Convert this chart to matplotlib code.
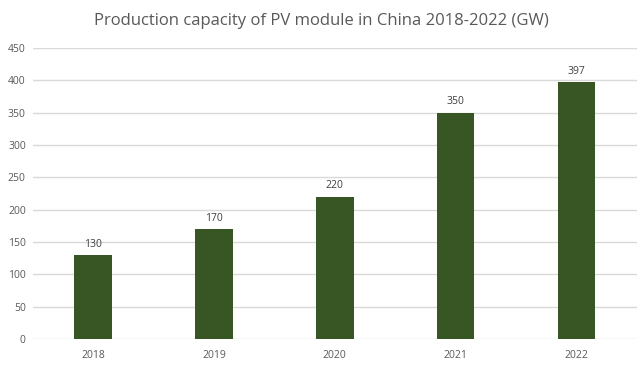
import matplotlib
matplotlib.use("Agg")
import matplotlib.pyplot as plt

years = ["2018", "2019", "2020", "2021", "2022"]
capacity = [130, 170, 220, 350, 397]
y_ticks = [0, 50, 100, 150, 200, 250, 300, 350, 400, 450]

BAR_COLOR = "#375623"
TEXT_COLOR = "#595959"
GRID_COLOR = "#d9d9d9"

plt.rcParams['font.family'] = ['Open Sans', 'DejaVu Sans']

fig = plt.figure(figsize=(6.42, 3.69), dpi=100)
ax = fig.add_axes([0.051, 0.0813, 0.941, 0.789])

x = range(len(years))
ax.bar(x, capacity, width=0.31, color=BAR_COLOR, zorder=3)

for xi, v in zip(x, capacity):
    ax.text(xi, v + 8, str(v), ha="center", va="bottom", fontsize=7.5, color="#404040")

ax.set_xlim(-0.5, len(years) - 0.5)
ax.set_ylim(0, 450)
ax.set_yticks(y_ticks)
ax.set_xticks(list(x))
ax.set_xticklabels(years)
ax.tick_params(axis="both", length=0, labelsize=7.5, colors=TEXT_COLOR)
ax.tick_params(axis="x", pad=8)
ax.tick_params(axis="y", pad=5)

ax.grid(axis="y", color=GRID_COLOR, linewidth=1, zorder=0)
for s in ax.spines.values():
    s.set_visible(False)

fig.suptitle("Production capacity of PV module in China 2018-2022 (GW)",
             y=0.965, fontsize=12, color=TEXT_COLOR)

fig.savefig("out.png", dpi=100)
